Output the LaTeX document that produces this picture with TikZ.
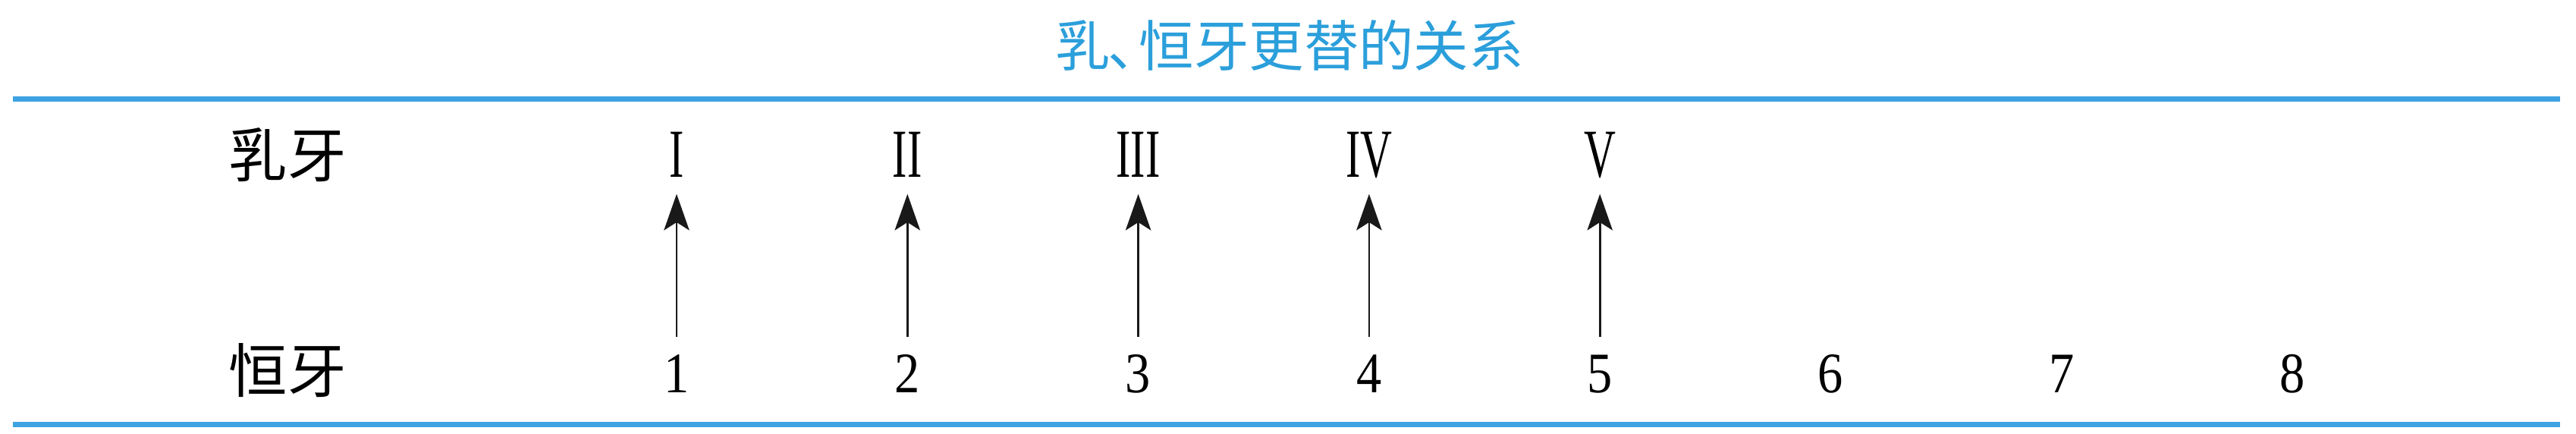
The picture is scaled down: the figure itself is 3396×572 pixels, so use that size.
\documentclass[tikz,border=0pt]{standalone}
\usepackage{fontspec}
\usepackage{graphicx}
\setmainfont{Liberation Serif}
\newfontfamily\cjk{Noto Sans CJK SC}
\usetikzlibrary{arrows.meta}
\definecolor{titleblue}{HTML}{2B9FDB}
\definecolor{ruleblue}{HTML}{3DA2E2}
\newcommand{\rnum}[1]{\scalebox{0.64}[1]{#1}}
\newcommand{\dnum}[1]{\scalebox{0.88}[1]{#1}}
\begin{document}
\begin{tikzpicture}[x=0.1mm, y=-0.1mm,
  rulestyle/.style={draw=ruleblue, line width=0.7mm},
  rowlabel/.style={anchor=base, inner sep=0pt, font=\cjk\fontsize{22pt}{26pt}\selectfont},
  milk/.style={anchor=base, inner sep=0pt, text height=6mm, text depth=0pt, font=\fontsize{25.8pt}{30pt}\selectfont},
  perm/.style={anchor=base, inner sep=0pt, text height=5mm, text depth=0pt, font=\fontsize{21.5pt}{25pt}\selectfont},
  uparrow/.style={-{Stealth[length=13.6pt, width=9.5pt, inset=3pt]}, line width=0.8pt, black!90}]

\fill[white] (0,0) rectangle (3396,572);
\useasboundingbox (0,0) rectangle (3396,572);

% title and rules
\node[anchor=base, inner sep=0pt, text=titleblue, font=\cjk\fontsize{20.6pt}{25pt}\selectfont] (title) at (1700,88) {乳\kern-0.05em、\kern-0.42em恒牙更替的关系};
\draw[rulestyle] (17,130.5) -- (3375,130.5);
\draw[rulestyle] (17,560) -- (3375,560);

\node[rowlabel] (milklabel) at (379,234) {乳牙};
\node[rowlabel] (permlabel) at (379,518) {恒牙};

\foreach \i in {1,...,8}{
\node[perm] (p\i) at ({892+304.3*(\i-1)},518) {\dnum{\i}};
}
\foreach \i/\r in {1/I,2/II,3/III,4/IV,5/V}{
\node[milk] (d\i) at ({892+304.3*(\i-1)},234) {\rnum{\r}};
\draw[uparrow, shorten <=2.3mm, shorten >=2.1mm] (p\i.north) -- (d\i.south);
}
\end{tikzpicture}
\end{document}
